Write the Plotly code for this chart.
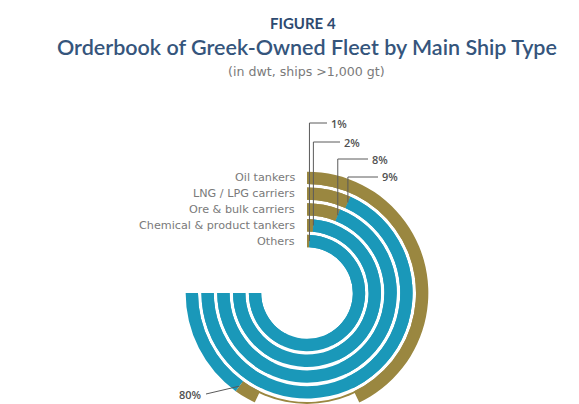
import math
import plotly.graph_objects as go

# Orderbook shares by ship type (outermost ring first)
categories = ["Oil tankers", "LNG / LPG carriers", "Ore & bulk carriers",
              "Chemical & product tankers", "Others"]
share_pct = [80, 9, 8, 2, 1]
pct_labels = ["80%", "9%", "8%", "2%", "1%"]

TITLE_TOP = "FIGURE 4"
TITLE = "Orderbook of Greek-Owned Fleet by Main Ship Type"
SUBTITLE = "(in dwt, ships >1,000 gt)"

# ---- layout constants -------------------------------------------------
W, H = 579, 404
CX, CY = 307, 293          # pixel centre of the rings
R_OUT = 123                # radius (px) of the main polar frame
R_LOW = H - CY             # room left below the centre (px)
PX_PER_UNIT = 15.8         # pixels per radial unit (one ring pitch)
INNER_BASE = 2.9           # radius of innermost ring's inner edge
BAND = 0.78                # ring thickness (rest of the pitch is the gap)
SPAN_DEG = 270             # a full track runs from 12 o'clock to 9 o'clock

GOLD = "#9a8740"
TEAL = "#1a98b9"
LEADER = "#5a5a5a"
LABEL_FONT = dict(family="Open Sans", size=11, color="#505050", weight=600)

n = len(categories)
ring_base = [INNER_BASE + (n - 1 - i) for i in range(n)]
ring_mid = [b + BAND / 2 for b in ring_base]


def polar_to_px(r, theta):
    """(radial units, degrees clockwise from 12 o'clock) -> page pixels."""
    t = math.radians(theta)
    return CX + r * PX_PER_UNIT * math.sin(t), CY - r * PX_PER_UNIT * math.cos(t)


def px(x, y):
    return x / W, 1 - y / H


fig = go.Figure()

# The main frame is a sector that stops short of 6 o'clock so it fits the
# page; a second, smaller full-circle frame fills in the bottom of the rings.
sector_dip = math.degrees(math.asin(R_LOW / R_OUT))
frames = {
    "polar": dict(domain=dict(x=[(CX - R_OUT) / W, (CX + R_OUT) / W],
                              y=[0, (R_LOW + R_OUT) / H]),
                  radius=R_OUT, sector=[-sector_dip, 180 + sector_dip]),
    "polar2": dict(domain=dict(x=[(CX - R_LOW) / W, (CX + R_LOW) / W],
                               y=[0, 2 * R_LOW / H]),
                   radius=R_LOW, sector=[0, 360]),
}

# gold = share of the orderbook, teal = remainder of the track
for sub in frames:
    for i, cat in enumerate(categories):
        g = share_pct[i] * SPAN_DEG / 100
        rest = SPAN_DEG - g
        fig.add_trace(go.Barpolar(
            r=[BAND, BAND], base=[ring_base[i], ring_base[i]],
            theta=[g / 2, g + rest / 2], width=[g, rest],
            marker=dict(color=[GOLD, TEAL], line=dict(width=0)),
            name=cat, subplot=sub, hoverinfo="skip", showlegend=False,
        ))

annotations = []
shapes = []

# category names, right-aligned just left of where each ring starts
for i, cat in enumerate(categories):
    x, y = polar_to_px(ring_mid[i], 0)
    ax, ay = px(x - 10, y)
    annotations.append(dict(
        text=cat, x=ax, y=ay, xref="paper", yref="paper",
        xanchor="right", yanchor="middle", showarrow=False,
        font=dict(family="DejaVu Sans", size=11.2, color="#7a7a7a"),
    ))

# leader lines: up from the end of the gold arc, then a short stub to the label
label_x = {1: 378, 2: 368, 3: 340, 4: 327}     # stub end (px)
label_y = {1: 177, 2: 159, 3: 142, 4: 123}     # label height (px)
for i in label_x:
    sx, sy = polar_to_px(ring_mid[i], share_pct[i] * SPAN_DEG / 100)
    ex, ey = label_x[i], label_y[i]
    p0, p1, p2 = px(sx, sy), px(sx, ey), px(ex, ey)
    shapes.append(dict(
        type="path", xref="paper", yref="paper",
        path=f"M {p0[0]},{p0[1]} L {p1[0]},{p1[1]} L {p2[0]},{p2[1]}",
        line=dict(color=LEADER, width=1),
    ))
    lx, ly = px(ex + 2, ey)
    annotations.append(dict(
        text=pct_labels[i], x=lx, y=ly, xref="paper", yref="paper",
        xanchor="left", yanchor="middle", showarrow=False, font=LABEL_FONT,
    ))

# outer ring: label sits below-left of the gold/teal boundary
sx, sy = polar_to_px(ring_mid[0], share_pct[0] * SPAN_DEG / 100)
ex, ey = 206, 394
p0, p1 = px(sx, sy), px(ex, ey)
shapes.append(dict(type="line", xref="paper", yref="paper",
                   x0=p0[0], y0=p0[1], x1=p1[0], y1=p1[1],
                   line=dict(color=LEADER, width=1)))
lx, ly = px(ex - 2, ey)
annotations.append(dict(
    text=pct_labels[0], x=lx, y=ly, xref="paper", yref="paper",
    xanchor="right", yanchor="middle", showarrow=False, font=LABEL_FONT,
))

# titles
for text, x, y, font in [
    ("<b>" + TITLE_TOP + "</b>", 303, 23, dict(family="Lato", size=15, color="#2d4a70")),
    (TITLE, 307, 47, dict(family="Lato", size=21.5, color="#35557c", weight=600)),
    (SUBTITLE, 306, 72, dict(family="DejaVu Sans", size=12.6, color="#7a7a7a")),
]:
    annotations.append(dict(
        text=text, x=x / W, y=1 - y / H, xref="paper", yref="paper",
        xanchor="center", yanchor="middle", showarrow=False, font=font,
    ))

layout = dict(
    width=W, height=H, margin=dict(l=0, r=0, t=0, b=0),
    paper_bgcolor="white", plot_bgcolor="white",
    annotations=annotations, shapes=shapes,
)
for sub, f in frames.items():
    layout[sub] = dict(
        domain=f["domain"], sector=f["sector"],
        bgcolor="rgba(0,0,0,0)", barmode="overlay",
        radialaxis=dict(range=[0, f["radius"] / PX_PER_UNIT], visible=False),
        angularaxis=dict(direction="clockwise", rotation=90, visible=False),
    )
fig.update_layout(**layout)

fig.write_html("out.html")
